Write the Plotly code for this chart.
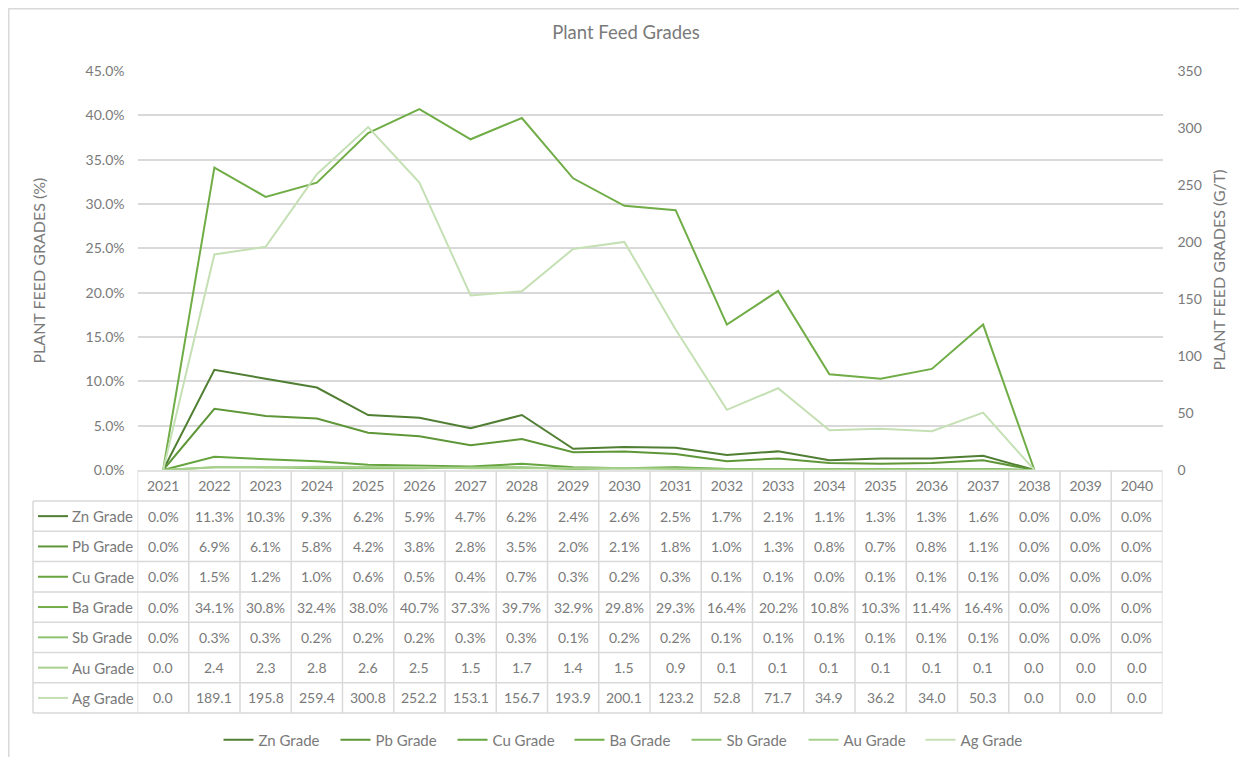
import plotly.graph_objects as go

# ---------------- data ----------------
YEARS = [str(y) for y in range(2021, 2041)]
SERIES_NAMES = ["Zn Grade", "Pb Grade", "Cu Grade", "Ba Grade", "Sb Grade", "Au Grade", "Ag Grade"]

ZN = [0.0, 11.3, 10.3, 9.3, 6.2, 5.9, 4.7, 6.2, 2.4, 2.6, 2.5, 1.7, 2.1, 1.1, 1.3, 1.3, 1.6, 0.0, 0.0, 0.0]
PB = [0.0, 6.9, 6.1, 5.8, 4.2, 3.8, 2.8, 3.5, 2.0, 2.1, 1.8, 1.0, 1.3, 0.8, 0.7, 0.8, 1.1, 0.0, 0.0, 0.0]
CU = [0.0, 1.5, 1.2, 1.0, 0.6, 0.5, 0.4, 0.7, 0.3, 0.2, 0.3, 0.1, 0.1, 0.0, 0.1, 0.1, 0.1, 0.0, 0.0, 0.0]
BA = [0.0, 34.1, 30.8, 32.4, 38.0, 40.7, 37.3, 39.7, 32.9, 29.8, 29.3, 16.4, 20.2, 10.8, 10.3, 11.4, 16.4, 0.0, 0.0, 0.0]
SB = [0.0, 0.3, 0.3, 0.2, 0.2, 0.2, 0.3, 0.3, 0.1, 0.2, 0.2, 0.1, 0.1, 0.1, 0.1, 0.1, 0.1, 0.0, 0.0, 0.0]
AU = [0.0, 2.4, 2.3, 2.8, 2.6, 2.5, 1.5, 1.7, 1.4, 1.5, 0.9, 0.1, 0.1, 0.1, 0.1, 0.1, 0.1, 0.0, 0.0, 0.0]
AG = [0.0, 189.1, 195.8, 259.4, 300.8, 252.2, 153.1, 156.7, 193.9, 200.1, 123.2, 52.8, 71.7, 34.9, 36.2, 34.0, 50.3, 0.0, 0.0, 0.0]

SERIES_VALUES = [ZN, PB, CU, BA, SB, AU, AG]
IS_PERCENT = [True, True, True, True, True, False, False]   # % on left axis, g/t on right axis
LAST_PLOTTED_YEAR = "2038"                                  # lines stop here in the chart

# ---------------- style ----------------
COLORS = ["#507E32", "#5E9638", "#66A43F", "#70AD47", "#8DC26F", "#A9D18E", "#C5E0B4"]
TEXT = "#7a7a7a"
GRID = "#d9d9d9"
FONT = "Lato"
PAGE_MARGIN = 8                       # default body margin of the page
W, H = 1247 - 2 * PAGE_MARGIN, 765 - 2 * PAGE_MARGIN

def py(px):
    """screen y pixel -> paper fraction"""
    return (H - (px - PAGE_MARGIN)) / H

def pxx(px):
    """screen x pixel -> paper fraction"""
    return (px - PAGE_MARGIN) / W

PLOT_L, PLOT_R, PLOT_T, PLOT_B = 137.5, 1162.5, 71, 470
HEADER_TOP, ROW0_TOP, ROW_H = 471, 501, 30.3
LABEL_L = 33
KEY_X0, KEY_X1, LABEL_TEXT_X = 38, 68, 70

n_plot = YEARS.index(LAST_PLOTTED_YEAR) + 1

fig = go.Figure()
for name, vals, pct, col in zip(SERIES_NAMES, SERIES_VALUES, IS_PERCENT, COLORS):
    yv = [v if i < n_plot else None for i, v in enumerate(vals)]
    fig.add_trace(go.Scatter(
        x=YEARS, y=yv, name=name, mode="lines",
        line=dict(color=col, width=2),
        yaxis="y" if pct else "y2",
        hoverinfo="skip",
    ))

shapes = []
annotations = []

line_style = dict(color=GRID, width=1.5)
n_rows = len(SERIES_NAMES)
table_bottom = ROW0_TOP + n_rows * ROW_H

# data-table grid: year columns follow the category axis
for i in range(len(YEARS) + 1):
    shapes.append(dict(type="line", xref="x", yref="paper",
                       x0=i - 0.5, x1=i - 0.5, y0=py(HEADER_TOP), y1=py(table_bottom),
                       line=line_style, layer="below"))
shapes.append(dict(type="line", xref="paper", yref="paper",
                   x0=pxx(PLOT_L), x1=pxx(PLOT_R), y0=py(HEADER_TOP), y1=py(HEADER_TOP),
                   line=line_style, layer="below"))
for k in range(n_rows + 1):
    yy = py(ROW0_TOP + k * ROW_H)
    shapes.append(dict(type="line", xref="paper", yref="paper",
                       x0=pxx(LABEL_L), x1=pxx(PLOT_R), y0=yy, y1=yy,
                       line=line_style, layer="below"))
shapes.append(dict(type="line", xref="paper", yref="paper",
                   x0=pxx(LABEL_L), x1=pxx(LABEL_L), y0=py(ROW0_TOP), y1=py(table_bottom),
                   line=line_style, layer="below"))

# chart border (top and left edges visible in the reference)
shapes.append(dict(type="line", xref="paper", yref="paper",
                   x0=0, x1=1.0, y0=0.999, y1=0.999, line=line_style))
shapes.append(dict(type="line", xref="paper", yref="paper",
                   x0=0.0006, x1=0.0006, y0=0.0, y1=1.0, line=line_style))

for k, (name, vals, pct, col) in enumerate(zip(SERIES_NAMES, SERIES_VALUES, IS_PERCENT, COLORS)):
    yc = py(ROW0_TOP + (k + 0.5) * ROW_H)
    shapes.append(dict(type="line", xref="paper", yref="paper",
                       x0=pxx(KEY_X0), x1=pxx(KEY_X1), y0=yc, y1=yc,
                       line=dict(color=col, width=2)))
    annotations.append(dict(xref="paper", yref="paper", x=pxx(LABEL_TEXT_X), y=yc,
                            text=name, showarrow=False, xanchor="left", yanchor="middle",
                            font=dict(family=FONT, size=15, color=TEXT)))
    for i, v in enumerate(vals):
        txt = f"{v:.1f}%" if pct else f"{v:.1f}"
        annotations.append(dict(xref="x", yref="paper", x=i, y=yc, text=txt,
                                showarrow=False, xanchor="center", yanchor="middle",
                                font=dict(family=FONT, size=14, color=TEXT)))

annotations.append(dict(xref="paper", yref="paper", x=pxx(38), y=py((PLOT_T + PLOT_B) / 2),
                        text="PLANT FEED GRADES (%)", textangle=-90, showarrow=False,
                        xanchor="center", yanchor="middle",
                        font=dict(family=FONT, size=16, color=TEXT)))
annotations.append(dict(xref="paper", yref="paper", x=pxx(1218), y=py((PLOT_T + PLOT_B) / 2),
                        text="PLANT FEED GRADES (G/T)", textangle=-90, showarrow=False,
                        xanchor="center", yanchor="middle",
                        font=dict(family=FONT, size=16, color=TEXT)))

fig.update_layout(
    width=W, height=H, autosize=False,
    margin=dict(l=0, r=0, t=0, b=0, pad=0, autoexpand=False),
    paper_bgcolor="white", plot_bgcolor="white",
    font=dict(family=FONT, size=14, color=TEXT),
    title=dict(text="Plant Feed Grades", x=pxx(626), xanchor="center", y=py(33), yanchor="middle",
               font=dict(family=FONT, size=18.5, color=TEXT)),
    xaxis=dict(domain=[pxx(PLOT_L), pxx(PLOT_R)], type="category", automargin=False,
               categoryorder="array", categoryarray=YEARS, range=[-0.5, len(YEARS) - 0.5],
               showgrid=False, zeroline=False, showline=False, ticks="",
               tickfont=dict(family=FONT, size=14, color=TEXT), ticklabelstandoff=6,
               fixedrange=True),
    yaxis=dict(domain=[py(PLOT_B), py(PLOT_T)], range=[0, 45], dtick=5, automargin=False,
               tickformat=".1f", ticksuffix="%", showgrid=True, gridcolor=GRID, gridwidth=1.5,
               zeroline=False, showline=False, ticks="", ticklabelstandoff=12,
               tickfont=dict(family=FONT, size=14, color=TEXT), fixedrange=True),
    yaxis2=dict(domain=[py(PLOT_B), py(PLOT_T)], range=[0, 350], dtick=50, overlaying="y",
                side="right", showgrid=False, zeroline=False, showline=False, ticks="",
                automargin=False, ticklabelstandoff=14,
                tickfont=dict(family=FONT, size=14, color=TEXT), fixedrange=True),
    legend=dict(orientation="h", x=pxx(628), xanchor="center", y=py(740), yanchor="middle",
                font=dict(family=FONT, size=15, color=TEXT), itemwidth=30,
                entrywidth=72, entrywidthmode="pixels", bgcolor="rgba(0,0,0,0)"),
    shapes=shapes,
    annotations=annotations,
    showlegend=True,
)

fig.write_html("out.html", config={"displayModeBar": False})
